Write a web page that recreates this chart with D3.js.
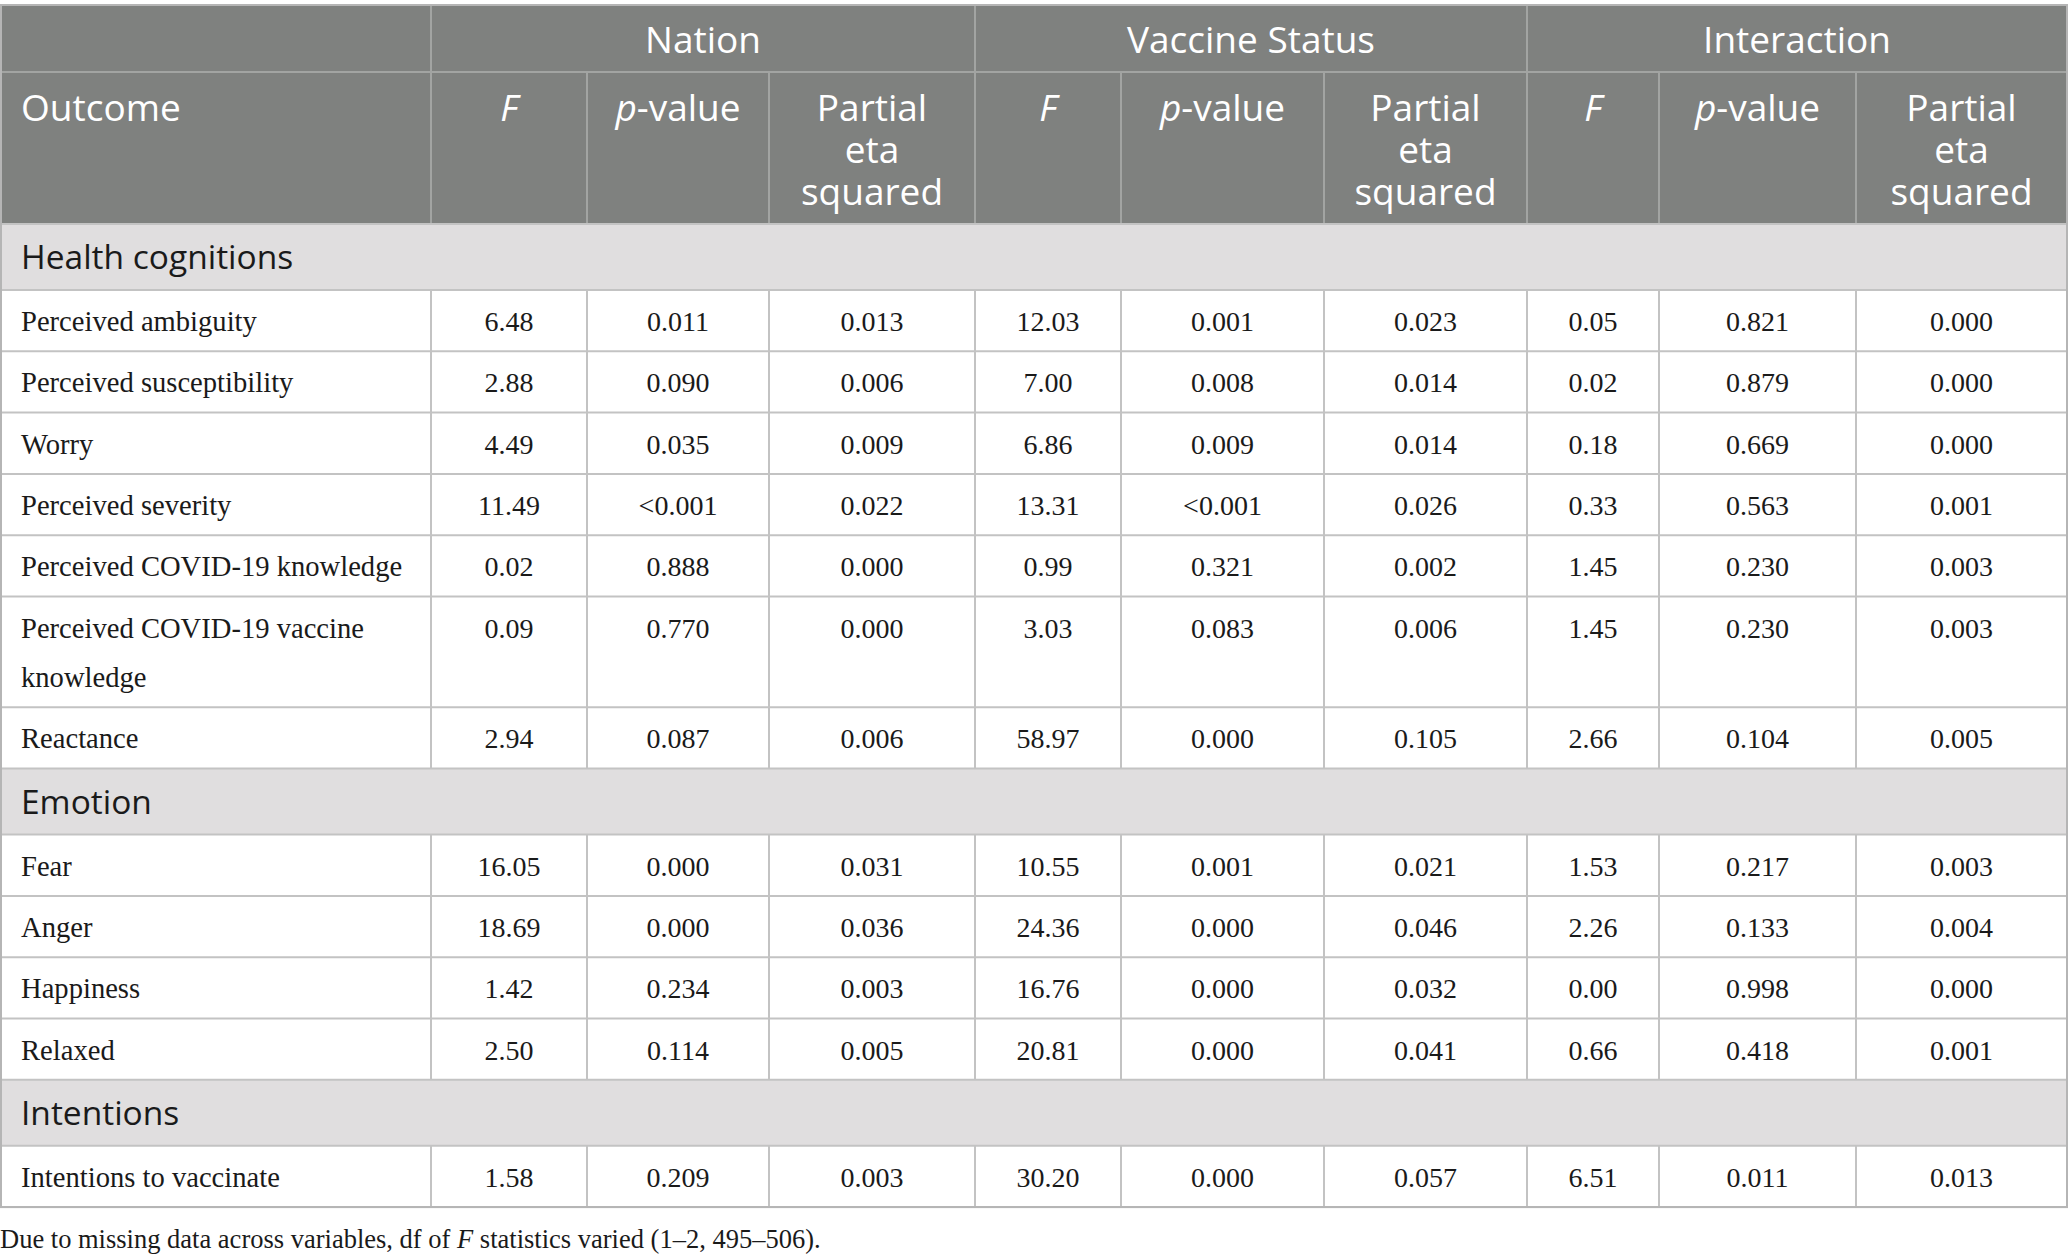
<!DOCTYPE html>
<html>
<head>
<meta charset="utf-8">
<script src="https://cdn.jsdelivr.net/npm/d3@7"></script>
<style>
  body { margin: 0; background: #fff; }
  .head { font-family: "Open Sans", "Noto Sans", sans-serif; fill: #fff; font-size: 37px; }
  .sectlabel { font-family: "Open Sans", "Noto Sans", sans-serif; fill: #1a1a1a; font-size: 33.5px; }
  .cell { font-family: "Liberation Serif", "DejaVu Serif", serif; fill: #1a1a1a; font-size: 28px; }
  .label { font-size: 28.6px; }
  .note { font-family: "Liberation Serif", "DejaVu Serif", serif; fill: #1a1a1a; font-size: 26.5px; }
</style>
</head>
<body>
<svg id="tbl" width="2068" height="1259"></svg>
<script>
// column groups and sub headings
var groups = ["Nation", "Vaccine Status", "Interaction"];
var subHeads = [["F"], ["p-value"], ["Partial", "eta", "squared"]];

// sections and the outcomes in each
var sections = ["Health cognitions", "Emotion", "Intentions"];
var sectionOf = [0, 0, 0, 0, 0, 0, 0, 1, 1, 1, 1, 2];
var outcomes = [
  ["Perceived ambiguity"],
  ["Perceived susceptibility"],
  ["Worry"],
  ["Perceived severity"],
  ["Perceived COVID-19 knowledge"],
  ["Perceived COVID-19 vaccine", "knowledge"],
  ["Reactance"],
  ["Fear"],
  ["Anger"],
  ["Happiness"],
  ["Relaxed"],
  ["Intentions to vaccinate"]
];

// values, one array per column
var nationF   = ["6.48", "2.88", "4.49", "11.49", "0.02", "0.09", "2.94", "16.05", "18.69", "1.42", "2.50", "1.58"];
var nationP   = ["0.011", "0.090", "0.035", "<0.001", "0.888", "0.770", "0.087", "0.000", "0.000", "0.234", "0.114", "0.209"];
var nationEta = ["0.013", "0.006", "0.009", "0.022", "0.000", "0.000", "0.006", "0.031", "0.036", "0.003", "0.005", "0.003"];
var vaccF     = ["12.03", "7.00", "6.86", "13.31", "0.99", "3.03", "58.97", "10.55", "24.36", "16.76", "20.81", "30.20"];
var vaccP     = ["0.001", "0.008", "0.009", "<0.001", "0.321", "0.083", "0.000", "0.001", "0.000", "0.000", "0.000", "0.000"];
var vaccEta   = ["0.023", "0.014", "0.014", "0.026", "0.002", "0.006", "0.105", "0.021", "0.046", "0.032", "0.041", "0.057"];
var interF    = ["0.05", "0.02", "0.18", "0.33", "1.45", "1.45", "2.66", "1.53", "2.26", "0.00", "0.66", "6.51"];
var interP    = ["0.821", "0.879", "0.669", "0.563", "0.230", "0.230", "0.104", "0.217", "0.133", "0.998", "0.418", "0.011"];
var interEta  = ["0.000", "0.000", "0.000", "0.001", "0.003", "0.003", "0.005", "0.003", "0.004", "0.000", "0.001", "0.013"];

var footnote = ["Due to missing data across variables, df of ", "F", " statistics varied (1\u20132, 495\u2013506)."];

var valueCols = [nationF, nationP, nationEta, vaccF, vaccP, vaccEta, interF, interP, interEta];

// layout
var colEdges = [0, 431, 587, 769, 975, 1121, 1324, 1527, 1659, 1856, 2067];
var tableTop = 5, head1 = 67, head2 = 152;
var sectH = 66, rowH = 61.3, lineH = 49.5;
var headBg = "#7f817f", headLine = "#a2a4a2", sectBg = "#e0dedf", bodyLine = "#c3c3c3";

var svg = d3.select("#tbl");

// build row list: section bands and data rows
var rows = [];
var yPos = tableTop + head1 + head2;
outcomes.forEach(function(o, i) {
  if (i === 0 || sectionOf[i] !== sectionOf[i - 1]) {
    rows.push({type: "sect", label: sections[sectionOf[i]], y: yPos, h: sectH});
    yPos += sectH;
  }
  var h = rowH + (o.length - 1) * lineH;
  rows.push({type: "data", idx: i, lines: o, y: yPos, h: h});
  yPos += h;
});
var tableBottom = yPos;
var sectRows = rows.filter(function(r) { return r.type === "sect"; });

// header background
svg.append("rect")
  .attr("x", 0).attr("y", tableTop)
  .attr("width", colEdges[10]).attr("height", head1 + head2)
  .attr("fill", headBg);

// section backgrounds
svg.selectAll("rect.band").data(sectRows)
  .enter().append("rect")
  .attr("class", "band")
  .attr("x", 0).attr("y", function(d) { return d.y; })
  .attr("width", colEdges[10]).attr("height", function(d) { return d.h; })
  .attr("fill", sectBg);

// header lines
var hl = svg.append("g").attr("stroke", headLine).attr("stroke-width", 2);
hl.append("line").attr("x1", 0).attr("x2", colEdges[10]).attr("y1", tableTop + head1).attr("y2", tableTop + head1);
[1, 4, 7].forEach(function(c) {
  hl.append("line").attr("x1", colEdges[c]).attr("x2", colEdges[c]).attr("y1", tableTop).attr("y2", tableTop + head1 + head2);
});
[2, 3, 5, 6, 8, 9].forEach(function(c) {
  hl.append("line").attr("x1", colEdges[c]).attr("x2", colEdges[c]).attr("y1", tableTop + head1).attr("y2", tableTop + head1 + head2);
});

// body grid
var bl = svg.append("g").attr("stroke", bodyLine).attr("stroke-width", 2);
rows.forEach(function(r) {
  bl.append("line").attr("x1", 0).attr("x2", colEdges[10]).attr("y1", r.y).attr("y2", r.y);
  if (r.type === "data") {
    colEdges.slice(1, 10).forEach(function(cx) {
      bl.append("line").attr("x1", cx).attr("x2", cx).attr("y1", r.y).attr("y2", r.y + r.h);
    });
  }
});
bl.append("line").attr("x1", 0).attr("x2", colEdges[10]).attr("y1", tableBottom).attr("y2", tableBottom);
// outer border
svg.append("rect")
  .attr("x", 1).attr("y", tableTop).attr("width", colEdges[10] - 1).attr("height", tableBottom - tableTop)
  .attr("fill", "none").attr("stroke", "#b5b5b5").attr("stroke-width", 2);

// header text: groups
svg.selectAll("text.grp").data(groups).enter().append("text")
  .attr("class", "head grp")
  .attr("x", function(d, i) { return (colEdges[1 + i * 3] + colEdges[4 + i * 3]) / 2; })
  .attr("y", tableTop + 48)
  .attr("text-anchor", "middle")
  .text(function(d) { return d; });

svg.append("text").attr("class", "head")
  .attr("x", 21).attr("y", tableTop + head1 + 49)
  .text("Outcome");

// sub headings for each of the nine value columns (one text, lines as tspans)
svg.selectAll("text.sub").data(d3.range(9)).enter().append("text")
  .attr("class", "head sub")
  .attr("text-anchor", "middle")
  .each(function(c) {
    var t = d3.select(this);
    var cx = (colEdges[c + 1] + colEdges[c + 2]) / 2;
    subHeads[c % 3].forEach(function(l, k) {
      var y = tableTop + head1 + 49 + k * 42;
      if (l === "F") {
        t.append("tspan").attr("x", cx).attr("y", y).attr("font-style", "italic").text("F");
      } else if (l === "p-value") {
        t.append("tspan").attr("x", cx).attr("y", y).attr("font-style", "italic").text("p");
        t.append("tspan").text("-value");
      } else {
        t.append("tspan").attr("x", cx).attr("y", y).text(l);
      }
    });
  });

// section labels
svg.selectAll("text.sl").data(sectRows)
  .enter().append("text")
  .attr("class", "sectlabel sl")
  .attr("x", 21).attr("y", function(d) { return d.y + 45; })
  .text(function(d) { return d.label; });

// data rows
var dataRows = rows.filter(function(r) { return r.type === "data"; });
var rg = svg.selectAll("g.row").data(dataRows).enter().append("g").attr("class", "row");
rg.each(function(r) {
  var g = d3.select(this);
  var lab = g.append("text").attr("class", "cell label");
  r.lines.forEach(function(l, k) {
    lab.append("tspan").attr("x", 21).attr("y", r.y + 41 + k * lineH).text(l);
  });
  valueCols.forEach(function(col, c) {
    g.append("text").attr("class", "cell")
      .attr("x", (colEdges[c + 1] + colEdges[c + 2]) / 2)
      .attr("y", r.y + 41)
      .attr("text-anchor", "middle")
      .text(col[r.idx]);
  });
});

// footnote
var fn = svg.append("text").attr("class", "note").attr("x", 0).attr("y", tableBottom + 41);
footnote.forEach(function(s, i) {
  var t = fn.append("tspan").text(s);
  if (i === 1) t.attr("font-style", "italic");
});
</script>
</body>
</html>
